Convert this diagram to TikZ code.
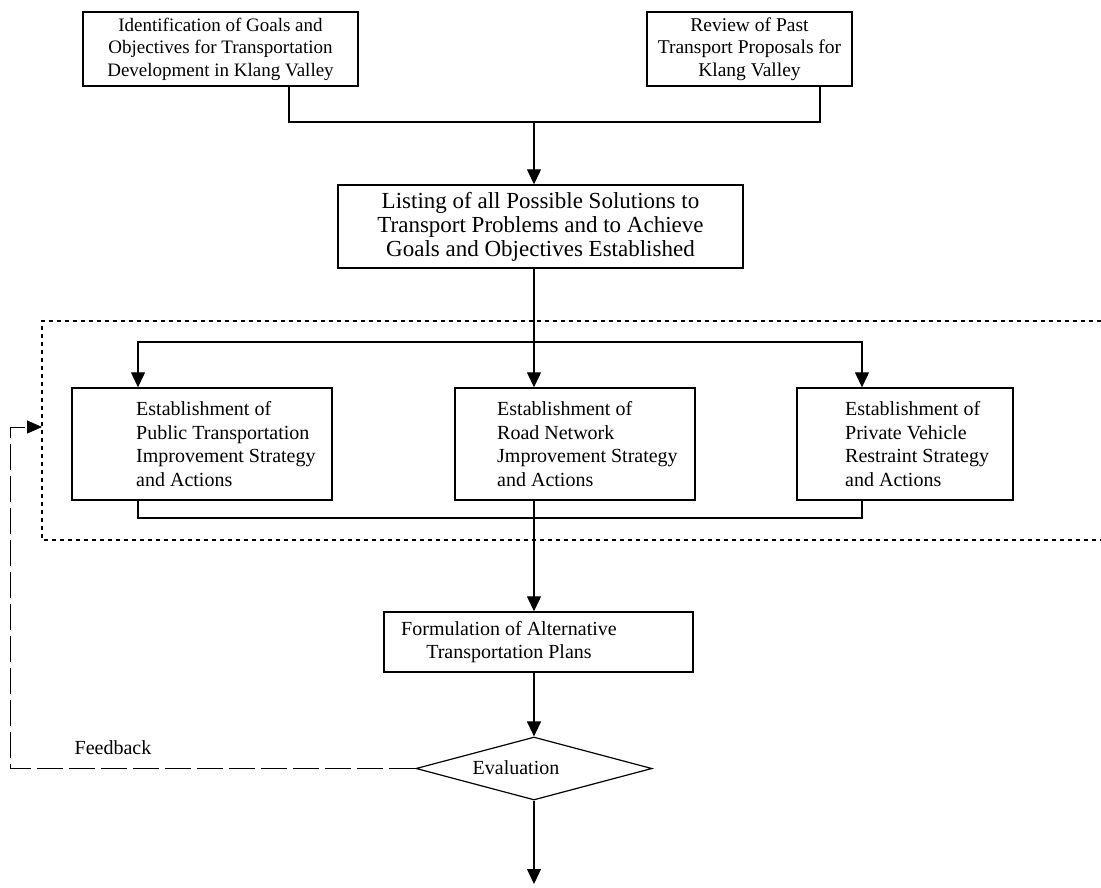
\documentclass[tikz,border=0pt]{standalone}
\usepackage{fontspec}
\setmainfont{Liberation Serif}
\usetikzlibrary{shapes.geometric,arrows.meta,calc}
\begin{document}
\begin{tikzpicture}[x=1pt,y=-1pt,
  every node/.style={font=\fontsize{20}{23.5}\selectfont},
  box/.style={draw,line width=1.4pt,rectangle,inner sep=0pt,align=center},
  txt/.style={inner sep=0pt,align=left,anchor=west},
  line/.style={line width=1.2pt},
  arr/.style={line width=1.2pt,-{Triangle[length=15pt,width=14pt]}},
  frame/.style={line width=1.5pt,dash pattern=on 4pt off 4pt},
  fb/.style={line width=1pt,dash pattern=on 26pt off 6pt,-{Triangle[length=15pt,width=13pt]}}]
\useasboundingbox (0,0) rectangle (1101,887);

% top boxes
\node[box,minimum width=275,minimum height=74,font=\fontsize{19}{22.5}\selectfont] (goals) at (220.5,49)
  {Identification of Goals and\\Objectives for Transportation\\Development in Klang Valley};
\node[box,minimum width=205,minimum height=74,font=\fontsize{19.5}{22.5}\selectfont] (review) at (749.5,49)
  {Review of Past\\Transport Proposals for\\Klang Valley};
\coordinate (jn) at (534,122);
\draw[line] ([xshift=68.5]goals.south) |- (jn) -| ([xshift=70.5]review.south);

\node[box,minimum width=405,minimum height=83,font=\fontsize{23}{24}\selectfont] (listing) at (540.5,226.5)
  {Listing of all Possible Solutions to\\Transport Problems and to Achieve\\Goals and Objectives Established};
\draw[arr] (jn) -- (jn |- listing.north);

% dotted frame
\coordinate (ftr) at (1101,321);
\coordinate (ftl) at (42,321);
\coordinate (fbl) at (42,540);
\coordinate (fbr) at (1101,540);
\draw[frame] (ftr) -- (ftl) -- (fbl) -- (fbr);

% strategy boxes
\node[box,minimum width=260,minimum height=112] (pub) at (202,444) {};
\node[box,minimum width=240,minimum height=112] (road) at (575,444) {};
\node[box,minimum width=216,minimum height=112] (priv) at (905,444) {};
\node[txt] (pubt) at (136,444) {Establishment of\\Public Transportation\\Improvement Strategy\\and Actions};
\node[txt] (roadt) at (497,444) {Establishment of\\Road Network\\Jmprovement Strategy\\and Actions};
\node[txt] (privt) at (845,444) {Establishment of\\Private Vehicle\\Restraint Strategy\\and Actions};

\coordinate (br) at (534,342);
\draw[arr] (listing.south -| br) -- (road.north -| br);
\draw[arr] (br) -| ([xshift=-64]pub.north);
\draw[arr] (br) -| ([xshift=-43]priv.north);
\coordinate (bj) at (534,518);
\draw[line] ([xshift=-64]pub.south) |- (bj) -| ([xshift=-43]priv.south);

% formulation
\node[box,minimum width=309,minimum height=60] (form) at (538.5,642) {};
\node[inner sep=0pt,align=center] (formt) at (509,642) {Formulation of Alternative\\Transportation Plans};
\draw[arr] (road.south -| bj) -- (form.north -| bj);

% evaluation
\node[draw,diamond,line width=1.2pt,aspect=3.8,inner sep=0pt,minimum width=236,minimum height=63] (eval) at (534,768.5) {};
\node[inner sep=0pt] (evalt) at (516,768) {Evaluation};
\draw[arr] (form.south -| eval) -- (eval.north);
\coordinate (out) at (534,884);
\draw[arr] (eval.south) -- (out);

% feedback
\coordinate (fbc) at (10,427);
\coordinate (fbt) at (42,427);
\draw[fb] (eval.west) -| (fbc) -- (fbt);
\node (fblab) at (113,748) {Feedback};
\end{tikzpicture}
\end{document}
